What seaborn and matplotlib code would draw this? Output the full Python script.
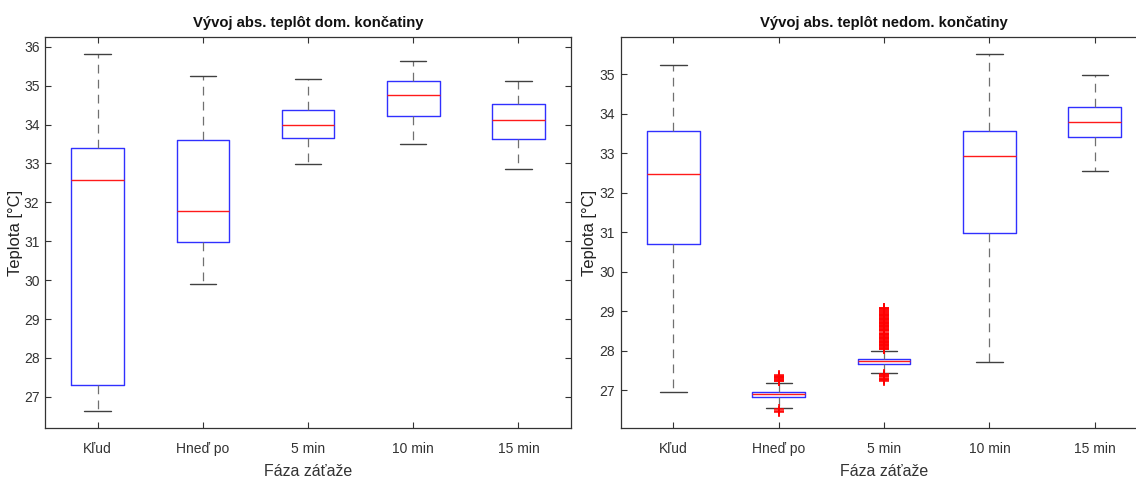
import numpy as np
import pandas as pd
import matplotlib
matplotlib.use("Agg")
import matplotlib.pyplot as plt
import seaborn as sns

# Load phases
phases = ["Kľud", "Hneď po", "5 min", "10 min", "15 min"]

# Dominant limb: whisker ends, quartiles and medians [°C]
dom_low = [26.64, 29.90, 32.99, 33.49, 32.86]
dom_q1 = [27.30, 30.99, 33.65, 34.23, 33.62]
dom_med = [32.58, 31.78, 34.00, 34.75, 34.12]
dom_q3 = [33.39, 33.60, 34.37, 35.13, 34.53]
dom_high = [35.81, 35.25, 35.17, 35.64, 35.11]

# Non-dominant limb
nedom_low = [26.94, 26.54, 27.43, 27.72, 32.55]
nedom_q1 = [30.71, 26.82, 27.66, 30.98, 33.41]
nedom_med = [32.48, 26.90, 27.73, 32.93, 33.78]
nedom_q3 = [33.56, 26.96, 27.79, 33.56, 34.16]
nedom_high = [35.22, 27.18, 28.00, 35.51, 34.99]

# Outlying measurements of the non-dominant limb
hned_po_outliers = [27.38, 27.36, 27.34, 27.32, 27.30, 27.28, 27.26, 27.24, 27.22,
                    26.51, 26.48, 26.45]
min5_outliers = [29.09, 29.07, 29.05, 29.03, 29.01, 28.97, 28.95, 28.93, 28.91,
                 28.89, 28.87, 28.85, 28.83, 28.81, 28.79, 28.77, 28.75, 28.73,
                 28.71, 28.69, 28.67, 28.65, 28.63, 28.61, 28.59, 28.57, 28.55,
                 28.53, 28.51, 28.49, 28.45, 28.43, 28.41, 28.39, 28.37, 28.35,
                 28.33, 28.31, 28.29, 28.27, 28.25, 28.23, 28.21, 28.19, 28.17,
                 28.15, 28.13, 28.11, 28.09, 28.07, 28.05, 28.03,
                 27.40, 27.38, 27.36, 27.34, 27.29, 27.27, 27.25, 27.22]


def summary_frame(low, q1, med, q3, high):
    rows = []
    for i, ph in enumerate(phases):
        for v in (low[i], q1[i], med[i], q3[i], high[i]):
            rows.append({"faza": ph, "teplota": v})
    return pd.DataFrame(rows)


dom_df = summary_frame(dom_low, dom_q1, dom_med, dom_q3, dom_high)
nedom_df = summary_frame(nedom_low, nedom_q1, nedom_med, nedom_q3, nedom_high)
out_df = pd.DataFrame(
    [{"faza": "Hneď po", "teplota": v} for v in hned_po_outliers]
    + [{"faza": "5 min", "teplota": v} for v in min5_outliers]
)

sns.set_style("ticks")
plt.rcParams["font.family"] = ["Liberation Sans", "DejaVu Sans"]

W, H = 1136, 479
fig = plt.figure(figsize=(W / 100, H / 100), dpi=100)
fig.patch.set_facecolor("white")

ax1 = fig.add_axes([45 / W, 1 - 428 / H, 526 / W, 391 / H])
ax2 = fig.add_axes([620.7 / W, 1 - 428 / H, 526.7 / W, 391 / H])

box_kw = dict(
    x="faza", y="teplota", order=phases, whis=np.inf, width=0.5,
    showfliers=False, fill=False,
    boxprops=dict(color="#3030ff", linewidth=1.0),
    medianprops=dict(color="#ff1a1a", linewidth=1.0),
    whiskerprops=dict(color="#707070", linewidth=0.9, linestyle=(0, (7, 5))),
    capprops=dict(color="#404040", linewidth=1.0),
)

sns.boxplot(data=dom_df, ax=ax1, **box_kw)
sns.boxplot(data=nedom_df, ax=ax2, **box_kw)
sns.stripplot(data=out_df, x="faza", y="teplota", order=phases, ax=ax2,
              jitter=False, marker="+", color="red", edgecolor="red",
              linewidth=1.1, size=6.5, zorder=3)

titles = ["Vývoj abs. teplôt dom. končatiny", "Vývoj abs. teplôt nedom. končatiny"]
ylims = [(26.2, 36.25), (26.04, 35.94)]
yticks = [np.arange(27, 37), np.arange(27, 36)]
ylabel_x = [(23 - 45) / 526, (597 - 620.7) / 526.7]

for ax, title, ylim, yt, lx in zip((ax1, ax2), titles, ylims, yticks, ylabel_x):
    ax.set_xlim(-0.5, 4.5)
    ax.set_ylim(*ylim)
    ax.set_yticks(yt)
    ax.set_xticks(range(len(phases)))
    ax.set_xticklabels(phases)
    ax.set_title(title, fontsize=10.7, fontweight="bold", color="#111111", pad=7)
    ax.set_xlabel("Fáza záťaže", fontsize=11.5, color="#333333", labelpad=6)
    ax.set_ylabel("Teplota [°C]", fontsize=12, color="#222222")
    ax.yaxis.set_label_coords(lx, 0.5)
    ax.tick_params(axis="both", direction="in", length=4, width=0.8,
                   top=True, right=True, colors="#333333", labelsize=10,
                   labelcolor="#333333")
    ax.tick_params(axis="x", pad=10)
    ax.tick_params(axis="y", pad=4)
    for sp in ax.spines.values():
        sp.set_visible(True)
        sp.set_color("#333333")
        sp.set_linewidth(0.9)

fig.savefig("out.png", dpi=100, facecolor="white")
